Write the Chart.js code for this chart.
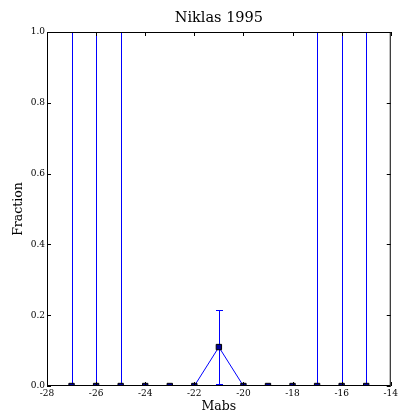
<!DOCTYPE html>
<html>
<head>
<meta charset="utf-8">
<script src="https://cdn.jsdelivr.net/npm/chart.js@4"></script>
<style>
  html, body { margin: 0; padding: 0; background: #fff; }
  canvas { display: block; }
</style>
</head>
<body>
<canvas id="niklas_chart" width="400" height="414"></canvas>
<script>
// magnitude bins and measured fraction
const mabs = [-27, -26, -25, -24, -23, -22, -21, -20, -19, -18, -17, -16, -15];
const fraction = [0, 0, 0, 0, 0, 0, 0.11, 0, 0, 0, 0, 0, 0];
// error bar extents (below / above the value)
const errLow = [0, 0, 0, 0, 0, 0, 0.105, 0, 0, 0, 0, 0, 0];
const errHigh = [1.2, 1.2, 1.2, 0, 0, 0, 0.105, 0, 0, 0, 1.2, 1.2, 1.2];
const xTicks = [-28, -26, -24, -22, -20, -18, -16, -14];
const yTicks = [0, 0.2, 0.4, 0.6, 0.8, 1.0];
const chartTitle = 'Niklas 1995';

const serif = "'DejaVu Serif', serif";

// error bars, frame, inward ticks and a title centred over the plot area
const errorBars = {
  id: 'errorBars',
  beforeDatasetsDraw(chart) {
    const { ctx, chartArea: a, scales: { x, y } } = chart;
    ctx.save();
    ctx.fillStyle = '#0000ff';
    mabs.forEach((m, i) => {
      if (!errLow[i] && !errHigh[i]) return;
      const px = Math.round(x.getPixelForValue(m));
      const top = Math.max(a.top, Math.round(y.getPixelForValue(fraction[i] + errHigh[i])));
      const bot = Math.min(a.bottom, Math.round(y.getPixelForValue(fraction[i] - errLow[i])));
      ctx.fillRect(px, top, 1, bot - top);
      if (top > a.top) {
        ctx.fillRect(px - 3, top, 7, 1);
        ctx.fillRect(px - 3, bot, 7, 1);
      }
    });
    ctx.restore();
  },
  afterDraw(chart) {
    const { ctx, chartArea: a, scales: { x, y } } = chart;
    ctx.save();
    ctx.strokeStyle = '#000';
    ctx.lineWidth = 1;
    ctx.strokeRect(a.left + 0.5, a.top + 0.5, a.right - a.left - 1, a.bottom - a.top - 1);
    ctx.beginPath();
    xTicks.forEach(t => {
      const px = Math.round(x.getPixelForValue(t)) + 0.5;
      ctx.moveTo(px, a.bottom); ctx.lineTo(px, a.bottom - 4);
      ctx.moveTo(px, a.top); ctx.lineTo(px, a.top + 4);
    });
    yTicks.forEach(t => {
      const py = Math.round(y.getPixelForValue(t)) + 0.5;
      ctx.moveTo(a.left, py); ctx.lineTo(a.left + 4, py);
      ctx.moveTo(a.right, py); ctx.lineTo(a.right - 4, py);
    });
    ctx.stroke();

    ctx.fillStyle = '#000';
    ctx.font = '14.5px ' + serif;
    ctx.textAlign = 'center';
    ctx.textBaseline = 'middle';
    ctx.fillText(chartTitle, (a.left + a.right) / 2, 18);
    ctx.restore();
  }
};

const ctx = document.getElementById('niklas_chart').getContext('2d');
new Chart(ctx, {
  type: 'scatter',
  data: {
    datasets: [{
      data: mabs.map((m, i) => ({ x: m, y: fraction[i] })),
      showLine: true,
      borderColor: '#0000ff',
      borderWidth: 1,
      pointStyle: 'rect',
      pointRadius: 3.8,
      pointBackgroundColor: '#00009a',
      pointBorderColor: '#000',
      pointBorderWidth: 1,
      clip: 0
    }]
  },
  options: {
    responsive: false,
    animation: false,
    devicePixelRatio: 1,
    layout: { padding: { top: 32, right: 8, bottom: 0, left: 11 } },
    plugins: {
      legend: { display: false },
      tooltip: { enabled: false },
      title: { display: false }
    },
    scales: {
      x: {
        type: 'linear',
        min: -28, max: -14,
        afterBuildTicks: s => { s.ticks = xTicks.map(v => ({ value: v })); },
        afterFit: s => { s.height = 28; },
        grid: { display: false, drawTicks: false },
        border: { display: false },
        ticks: { color: '#000', padding: 2, maxRotation: 0, font: { family: serif, size: 9 } },
        title: { display: true, text: 'Mabs', color: '#000', padding: 0, font: { family: serif, size: 12.5 } }
      },
      y: {
        min: 0, max: 1,
        afterBuildTicks: s => { s.ticks = yTicks.map(v => ({ value: v })); },
        afterFit: s => { s.width = 36; },
        grid: { display: false, drawTicks: false },
        border: { display: false },
        ticks: { color: '#000', padding: 2, font: { family: serif, size: 9 },
                 callback: v => v.toFixed(1) },
        title: { display: true, text: 'Fraction', color: '#000', padding: 0, font: { family: serif, size: 12.5 } }
      }
    }
  },
  plugins: [errorBars]
});
</script>
</body>
</html>
